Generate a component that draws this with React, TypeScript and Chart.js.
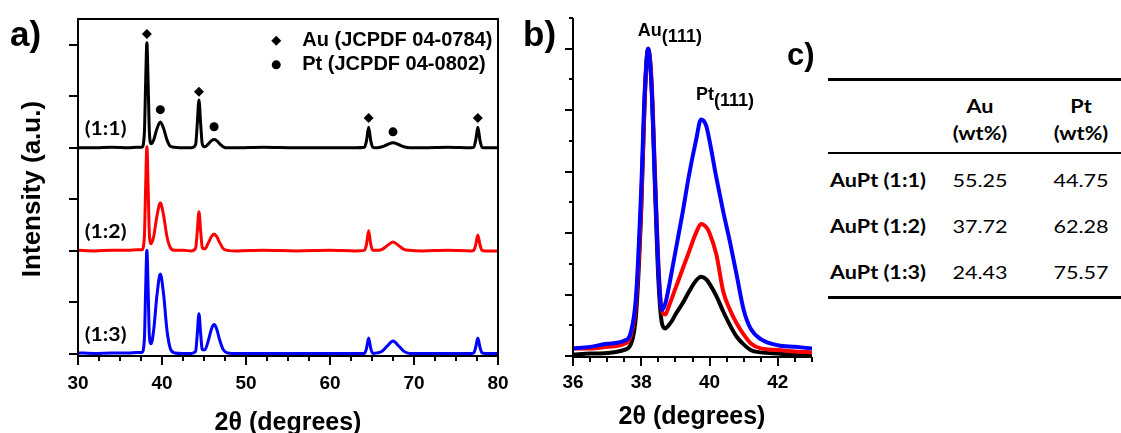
import React, { useEffect, useRef } from "react";
import { Chart, registerables } from "chart.js";

Chart.register(...registerables);

// ---------------- Panel a : XRD patterns ----------------
const xrdTheta = [30, 32, 34, 36, 37, 37.6, 37.9, 38.05, 38.2, 38.35, 38.5, 38.7, 39.0, 39.4, 39.8, 40.2, 40.6, 41.0, 41.5, 42.5, 43.5, 44.0, 44.2, 44.4, 44.6, 44.8, 45.1, 45.5, 45.9, 46.2, 46.5, 46.9, 47.3, 47.8, 49, 52, 56, 60, 63, 64.1, 64.35, 64.6, 64.85, 65.1, 65.6, 66.2, 66.8, 67.5, 68.2, 68.8, 69.5, 71, 74, 76.8, 77.1, 77.35, 77.6, 77.85, 78.1, 78.5, 80];
const xrd11 = [0, 0, 0.01, 0, 0.01, 0.01, 0.28, 1.25, 2.04, 1.25, 0.30, 0.08, 0.15, 0.37, 0.50, 0.37, 0.15, 0.03, 0.01, 0, 0, 0.06, 0.47, 0.93, 0.47, 0.07, 0.02, 0.07, 0.14, 0.16, 0.14, 0.07, 0.02, 0, 0, 0.01, 0, 0, 0, 0.01, 0.14, 0.40, 0.14, 0.01, 0, 0.02, 0.06, 0.10, 0.06, 0.02, 0, 0, 0.01, 0, 0.01, 0.15, 0.40, 0.15, 0.01, 0, 0];
const xrd12 = [0.01, 0, 0.01, 0.01, 0.02, 0.02, 0.27, 1.22, 2.02, 1.24, 0.31, 0.14, 0.27, 0.68, 0.93, 0.68, 0.27, 0.06, 0.01, 0.01, 0, 0.05, 0.38, 0.76, 0.39, 0.06, 0.04, 0.15, 0.28, 0.33, 0.28, 0.15, 0.04, 0.01, 0, 0.01, 0, 0.01, 0, 0.01, 0.13, 0.39, 0.13, 0.01, 0.01, 0.03, 0.10, 0.17, 0.10, 0.03, 0.01, 0, 0.01, 0, 0.01, 0.12, 0.31, 0.12, 0.01, 0, 0];
const xrd13 = [0.02, 0.01, 0.02, 0.02, 0.03, 0.03, 0.28, 1.23, 2.01, 1.25, 0.34, 0.20, 0.45, 1.14, 1.55, 1.14, 0.45, 0.10, 0.02, 0.01, 0.01, 0.05, 0.39, 0.78, 0.40, 0.08, 0.08, 0.25, 0.49, 0.57, 0.49, 0.25, 0.08, 0.02, 0.01, 0.01, 0.01, 0.01, 0.01, 0.01, 0.11, 0.31, 0.11, 0.01, 0.02, 0.05, 0.15, 0.25, 0.15, 0.05, 0.01, 0.01, 0.01, 0.01, 0.02, 0.13, 0.31, 0.13, 0.02, 0.01, 0.01];
const stackOffsets = [4, 2, 0];
const seriesColors = ["#000000", "#ff0000", "#0000ff"];
const ratioLabels = ["(1:1)", "(1:2)", "(1:3)"];

const auRefTheta = [38.2, 44.4, 64.6, 77.6];
const auRefMarkY = [6.21, 5.09, 4.58, 4.58];
const ptRefTheta = [39.8, 46.2, 67.5];
const ptRefMarkY = [4.74, 4.41, 4.31];
const legendLabels = ["Au (JCPDF 04-0784)", "Pt (JCPDF 04-0802)"];
const legendMarkX = 53.6;
const legendMarkY = [6.08, 5.61];
const aXTickLabels = [30, 40, 50, 60, 70, 80];

// ---------------- Panel b : (111) region ----------------
const zoomTheta = [36, 36.5, 37, 37.5, 37.7, 37.85, 38.0, 38.1, 38.2, 38.3, 38.4, 38.5, 38.6, 38.7, 38.8, 38.9, 39.0, 39.2, 39.4, 39.6, 39.75, 39.9, 40.0, 40.2, 40.4, 40.6, 40.8, 41.0, 41.2, 41.5, 42.0, 42.5, 43.0];
const zoom11 = [0.05, 0.08, 0.1, 0.2, 0.4, 1.4, 4.8, 8.3, 10.0, 8.8, 5.5, 2.5, 1.1, 0.9, 1.0, 1.15, 1.35, 1.7, 2.1, 2.45, 2.58, 2.5, 2.35, 1.95, 1.45, 1.0, 0.62, 0.38, 0.2, 0.12, 0.08, 0.05, 0.05];
const zoom12 = [0.25, 0.25, 0.3, 0.4, 0.7, 1.8, 5.0, 8.4, 10.0, 9.0, 6.0, 3.0, 1.5, 1.35, 1.6, 1.9, 2.2, 2.8, 3.4, 4.0, 4.3, 4.2, 4.0, 3.3, 2.1, 1.5, 1.05, 0.7, 0.42, 0.25, 0.2, 0.15, 0.12];
const zoom13 = [0.25, 0.3, 0.4, 0.5, 0.8, 2.0, 5.5, 8.6, 10.0, 8.8, 5.8, 2.9, 1.5, 1.7, 2.2, 2.8, 3.4, 4.6, 5.9, 7.0, 7.7, 7.5, 7.0, 5.8, 4.7, 3.7, 2.6, 1.5, 0.9, 0.55, 0.35, 0.3, 0.25];
const bXTickLabels = [36, 38, 40, 42];
const peakNames = ["Au", "Pt"];
const peakSubs = ["(111)", "(111)"];
const peakLabelX = [37.9, 39.6];
const peakLabelY = [10.42, 8.34];

// ---------------- Panel c : table ----------------
const tableHeads = ["Au", "Pt"];
const tableUnits = ["(wt%)", "(wt%)"];
const tableRowLabels = ["AuPt (1:1)", "AuPt (1:2)", "AuPt (1:3)"];
const auWt = ["55.25", "37.72", "24.43"];
const ptWt = ["44.75", "62.28", "75.57"];

const AXFONT = "Liberation Sans";

function drawText(ctx: CanvasRenderingContext2D, text: string, x: number, y: number, font: string, align: CanvasTextAlign, baseline: CanvasTextBaseline, sx = 1) {
  ctx.save();
  ctx.translate(x, y);
  ctx.scale(sx, 1);
  ctx.font = font;
  ctx.textAlign = align;
  ctx.textBaseline = baseline;
  ctx.fillStyle = "#000";
  ctx.fillText(text, 0, 0);
  ctx.restore();
}

const panelAPlugin = {
  id: "panelA",
  afterDatasetsDraw(chart: any) {
    const { ctx, chartArea: ca, scales } = chart;
    const xs = scales.x, ys = scales.y;
    ctx.save();
    ctx.strokeStyle = "#000";
    ctx.lineWidth = 2;
    ctx.strokeRect(ca.left, ca.top, ca.right - ca.left, ca.bottom - ca.top);
    ctx.beginPath();
    for (let v = 30; v <= 80.001; v += 2.5) {
      const px = Math.round(xs.getPixelForValue(v));
      const len = Math.abs(v % 10) < 1e-6 ? 9 : 5;
      ctx.moveTo(px, ca.bottom);
      ctx.lineTo(px, ca.bottom + len);
    }
    for (let v = 0; v <= 6; v++) {
      const py = Math.round(ys.getPixelForValue(v));
      ctx.moveTo(ca.left - 9, py);
      ctx.lineTo(ca.left, py);
    }
    ctx.stroke();
    ratioLabels.forEach((t, i) =>
      drawText(ctx, t, xs.getPixelForValue(30.8), ys.getPixelForValue(stackOffsets[i] + 0.37), "bold 18px Lato", "left", "middle", 1.18)
    );
    legendLabels.forEach((t, i) =>
      drawText(ctx, t, xs.getPixelForValue(56.7), ys.getPixelForValue(legendMarkY[i]), `bold 20px "${AXFONT}"`, "left", "middle")
    );
    ctx.restore();
  },
};

const panelBPlugin = {
  id: "panelB",
  afterDatasetsDraw(chart: any) {
    const { ctx, chartArea: ca, scales } = chart;
    const xs = scales.x, ys = scales.y;
    ctx.save();
    ctx.strokeStyle = "#000";
    ctx.lineWidth = 2;
    ctx.beginPath();
    ctx.moveTo(ca.left, ca.top);
    ctx.lineTo(ca.left, ca.bottom);
    ctx.lineTo(ca.right, ca.bottom);
    for (let v = 36; v <= 43.001; v += 0.5) {
      const px = Math.round(xs.getPixelForValue(v));
      const len = Math.abs(v % 2) < 1e-6 ? 9 : 5;
      ctx.moveTo(px, ca.bottom);
      ctx.lineTo(px, ca.bottom + len);
    }
    for (let v = 0; v <= 11; v++) {
      const py = Math.round(ys.getPixelForValue(v));
      const len = v % 2 === 0 ? 8 : 4;
      ctx.moveTo(ca.left - len, py);
      ctx.lineTo(ca.left, py);
    }
    ctx.stroke();
    const f = `bold 18px "${AXFONT}"`;
    peakNames.forEach((n, i) => {
      const px = xs.getPixelForValue(peakLabelX[i]);
      const py = ys.getPixelForValue(peakLabelY[i]);
      ctx.font = f;
      const w = ctx.measureText(n).width;
      drawText(ctx, n, px, py, f, "left", "alphabetic");
      drawText(ctx, peakSubs[i], px + w, py + 6, f, "left", "alphabetic");
    });
    ctx.restore();
  },
};

const tickFont = { family: AXFONT, weight: "bold" as const, size: 19 };

function makeConfigA(): any {
  const lines = [xrd11, xrd12, xrd13].map((vals, i) => ({
    type: "line",
    data: xrdTheta.map((x, j) => ({ x, y: vals[j] + stackOffsets[i] })),
    borderColor: seriesColors[i],
    borderWidth: 3,
    pointRadius: 0,
    cubicInterpolationMode: "monotone",
    borderJoinStyle: "round",
    order: 2,
  }));
  const markers = [
    { data: auRefTheta.map((x, j) => ({ x, y: auRefMarkY[j] })), pointStyle: "rectRot", pointRadius: 5 },
    { data: ptRefTheta.map((x, j) => ({ x, y: ptRefMarkY[j] })), pointStyle: "circle", pointRadius: 4.5 },
    { data: [{ x: legendMarkX, y: legendMarkY[0] }], pointStyle: "rectRot", pointRadius: 5 },
    { data: [{ x: legendMarkX, y: legendMarkY[1] }], pointStyle: "circle", pointRadius: 4.5 },
  ].map((m) => ({
    type: "line",
    showLine: false,
    ...m,
    backgroundColor: "#000",
    borderColor: "#000",
    borderWidth: 0,
    pointHoverRadius: 0,
    order: 0,
  }));
  return {
    type: "line",
    data: { datasets: [...lines, ...markers] },
    options: {
      responsive: false,
      animation: false,
      events: [],
      layout: { padding: { top: 19, right: 12, left: 0, bottom: 0 } },
      plugins: { legend: { display: false }, tooltip: { enabled: false } },
      scales: {
        x: {
          type: "linear",
          min: 30,
          max: 80,
          grid: { display: false, drawTicks: false },
          border: { display: false },
          ticks: { padding: 16, font: tickFont, color: "#000", maxRotation: 0, autoSkip: false },
          afterBuildTicks: (s: any) => { s.ticks = aXTickLabels.map((v) => ({ value: v })); },
          afterFit: (s: any) => { s.height = 77; s.paddingLeft = 0; s.paddingRight = 0; },
        },
        y: {
          type: "linear",
          min: -0.04,
          max: 6.5,
          grid: { display: false, drawTicks: false },
          border: { display: false },
          ticks: { display: false },
          afterFit: (s: any) => { s.width = 78; s.paddingTop = 0; s.paddingBottom = 0; },
        },
      },
    },
    plugins: [panelAPlugin],
  };
}

function makeConfigB(): any {
  const sets = [zoom11, zoom12, zoom13].map((vals, i) => ({
    type: "line",
    data: zoomTheta.map((x, j) => ({ x, y: vals[j] })),
    borderColor: seriesColors[i],
    borderWidth: 4,
    pointRadius: 0,
    cubicInterpolationMode: "monotone",
    borderJoinStyle: "round",
    order: 2 - i,
  }));
  return {
    type: "line",
    data: { datasets: sets },
    options: {
      responsive: false,
      animation: false,
      events: [],
      layout: { padding: { top: 18, right: 8, left: 0, bottom: 0 } },
      plugins: { legend: { display: false }, tooltip: { enabled: false } },
      scales: {
        x: {
          type: "linear",
          min: 36,
          max: 43,
          grid: { display: false, drawTicks: false },
          border: { display: false },
          ticks: { padding: 14, font: tickFont, color: "#000", maxRotation: 0, autoSkip: false },
          afterBuildTicks: (s: any) => { s.ticks = bXTickLabels.map((v) => ({ value: v })); },
          afterFit: (s: any) => { s.height = 76; s.paddingLeft = 0; s.paddingRight = 0; },
        },
        y: {
          type: "linear",
          min: -0.03,
          max: 11,
          grid: { display: false, drawTicks: false },
          border: { display: false },
          ticks: { display: false },
          afterFit: (s: any) => { s.width = 53; s.paddingTop = 0; s.paddingBottom = 0; },
        },
      },
    },
    plugins: [panelBPlugin],
  };
}

const abs = (o: React.CSSProperties): React.CSSProperties => ({ position: "absolute", ...o });

export default function App() {
  const aRef = useRef<HTMLCanvasElement>(null);
  const bRef = useRef<HTMLCanvasElement>(null);
  useEffect(() => {
    const ca = new Chart(aRef.current!, makeConfigA());
    const cb = new Chart(bRef.current!, makeConfigB());
    return () => {
      ca.destroy();
      cb.destroy();
    };
  }, []);

  const bold = (size: number): React.CSSProperties => ({
    fontFamily: `"${AXFONT}", Arial, sans-serif`,
    fontWeight: 700,
    fontSize: size,
    lineHeight: `${size}px`,
    whiteSpace: "nowrap",
    color: "#000",
  });
  const tableFont = (weight: number): React.CSSProperties => ({
    fontFamily: "Lato, sans-serif",
    fontWeight: weight,
    fontSize: 18,
    lineHeight: "18px",
    whiteSpace: "nowrap",
    color: "#000",
  });
  const centered = (x: number, y: number): React.CSSProperties => ({
    left: x,
    top: y,
    transform: "translate(-50%, -50%) scaleX(1.2)",
  });
  const colX = [980, 1081];

  return (
    <div style={abs({ left: 0, top: 0, width: 1121, height: 433, background: "#fff", overflow: "hidden" })}>
      <canvas ref={aRef} width={510} height={433} style={abs({ left: 0, top: 0, width: 510, height: 433 })} />
      <canvas ref={bRef} width={300} height={433} style={abs({ left: 520, top: 0, width: 300, height: 433 })} />

      <div style={abs({ ...bold(35), left: 10, top: 16 })}>a)</div>
      <div style={abs({ ...bold(35), left: 523, top: 16 })}>b)</div>
      <div style={abs({ ...bold(31), left: 787, top: 39 })}>c)</div>

      <div style={abs({ ...bold(26), left: 31, top: 189, transform: "translate(-50%, -50%) rotate(-90deg)" })}>Intensity (a.u.)</div>
      <div style={abs({ ...bold(25), left: 288, top: 421, transform: "translate(-50%, -50%)" })}>2θ (degrees)</div>
      <div style={abs({ ...bold(25), left: 692, top: 415, transform: "translate(-50%, -50%)" })}>2θ (degrees)</div>

      <div style={abs({ left: 828, top: 78, width: 293, height: 3, background: "#000" })} />
      <div style={abs({ left: 828, top: 152, width: 293, height: 2, background: "#000" })} />
      <div style={abs({ left: 828, top: 296, width: 293, height: 3, background: "#000" })} />

      {tableHeads.map((h, i) => (
        <div key={"h" + i} style={abs({ ...tableFont(700), ...centered(colX[i], 106) })}>{h}</div>
      ))}
      {tableUnits.map((h, i) => (
        <div key={"u" + i} style={abs({ ...tableFont(700), ...centered(colX[i], 133) })}>{h}</div>
      ))}
      {tableRowLabels.map((r, i) => (
        <div key={"r" + i} style={abs({ ...tableFont(700), left: 830, top: 180 + i * 46, transform: "translateY(-50%) scaleX(1.2)", transformOrigin: "left center" })}>{r}</div>
      ))}
      {auWt.map((v, i) => (
        <div key={"a" + i} style={abs({ ...tableFont(400), ...centered(colX[0], 180 + i * 46) })}>{v}</div>
      ))}
      {ptWt.map((v, i) => (
        <div key={"p" + i} style={abs({ ...tableFont(400), ...centered(colX[1], 180 + i * 46) })}>{v}</div>
      ))}
    </div>
  );
}
